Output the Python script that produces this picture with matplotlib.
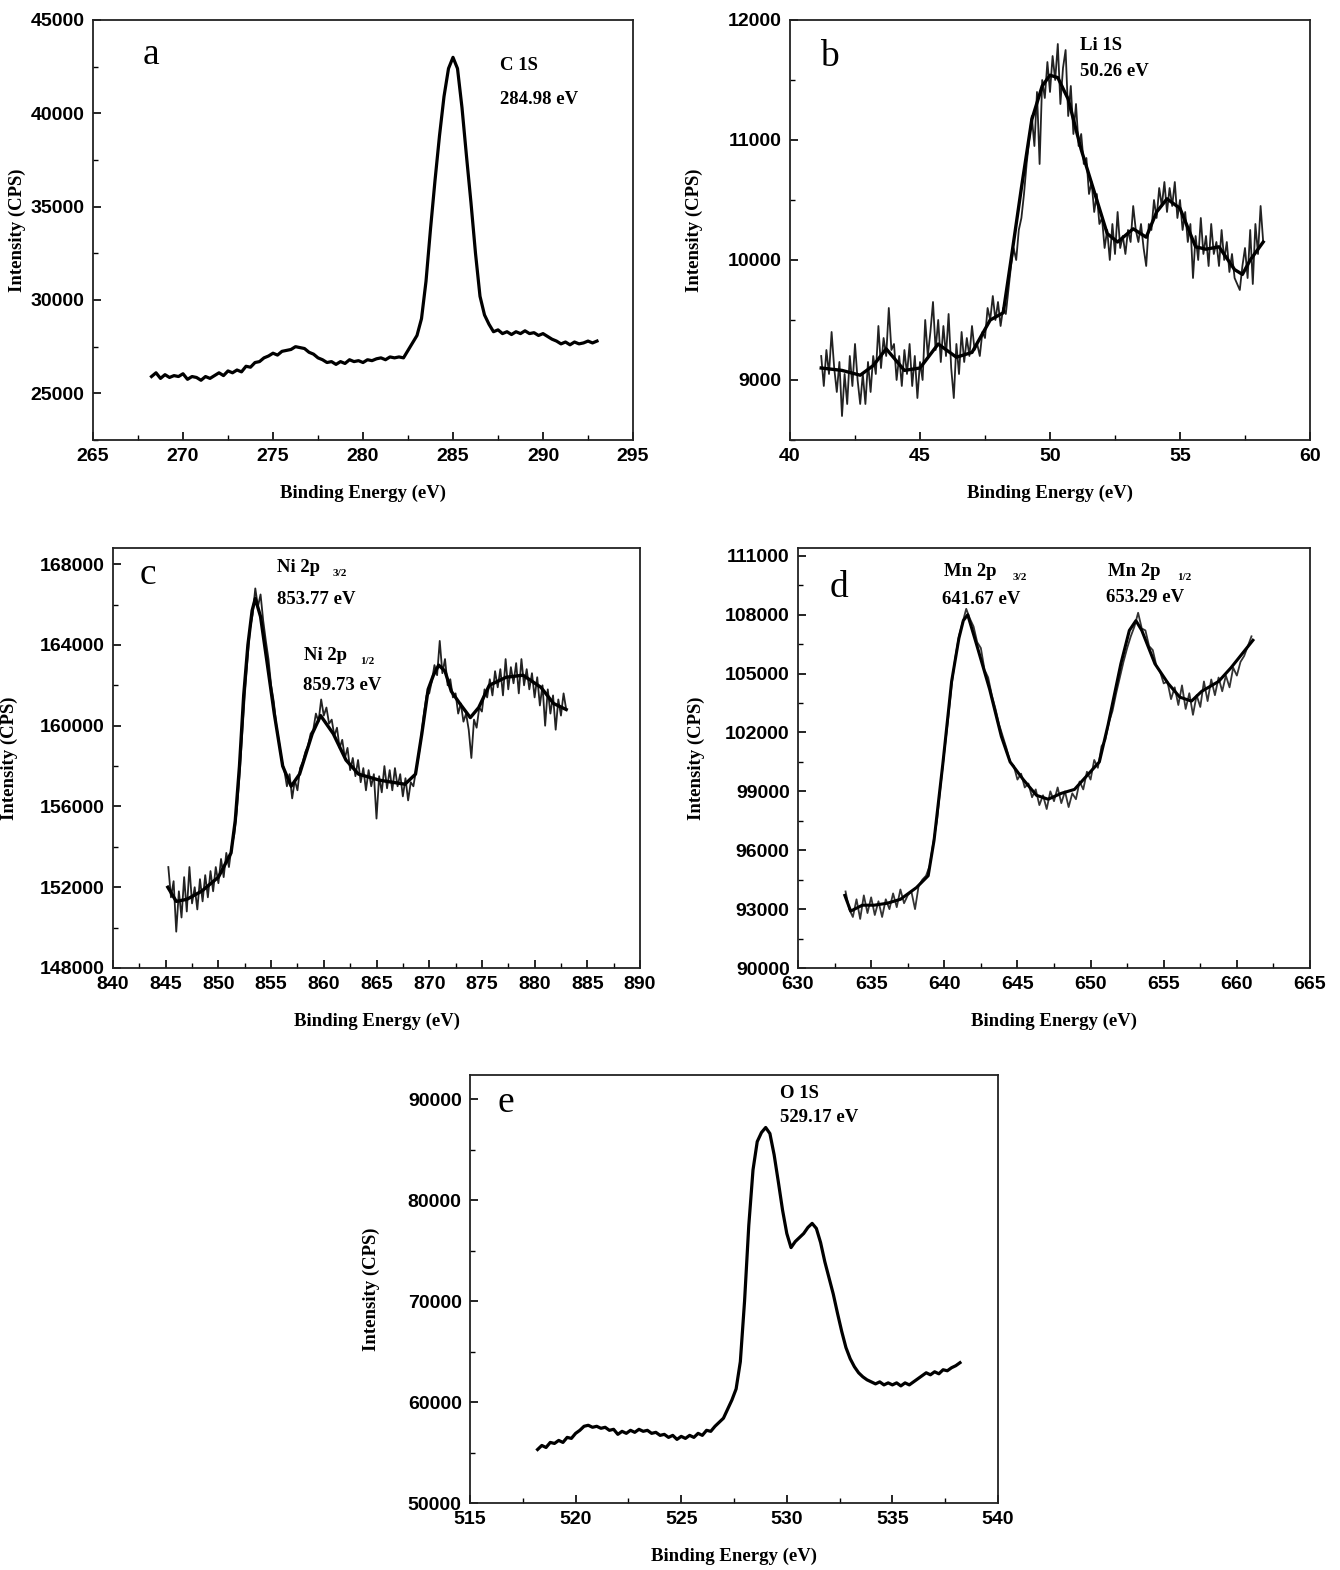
import numpy as np
import matplotlib
matplotlib.use("Agg")
import matplotlib.pyplot as plt
from matplotlib.ticker import MultipleLocator

W, H = 1340, 1570

# ---------------- data ----------------
# (a) C 1S
a_x = np.round(np.arange(268.25, 293.01, 0.25), 2)
a_y = [25900, 26100, 25800, 26000, 25850, 25950, 25900, 26050, 25750, 25900,
       25850, 25700, 25900, 25800, 25950, 26100, 25950, 26200, 26100, 26250,
       26150, 26450, 26400, 26650, 26700, 26900, 27000, 27150, 27050, 27250,
       27300, 27350, 27500, 27450, 27400, 27200, 27100, 26900, 26800, 26650,
       26700, 26550, 26700, 26600, 26800, 26700, 26750, 26650, 26800, 26750,
       26850, 26900, 26800, 26950, 26900, 26950, 26900, 27300, 27700, 28100,
       29000, 31000, 33800, 36400, 38800, 40900, 42400, 43000, 42400, 40300,
       37700, 35200, 32500, 30200, 29200, 28700, 28300, 28400, 28200, 28300,
       28150, 28300, 28200, 28350, 28200, 28250, 28100, 28200, 28050, 27900,
       27800, 27650, 27750, 27600, 27750, 27650, 27700, 27800, 27700, 27800]

# (b) Li 1S : raw trace and smoothed trace
b_raw_x = np.round(np.arange(41.2, 58.21, 0.1), 2)
b_raw_y = [9200, 8950, 9250, 9050, 9400, 9100, 8900, 9150, 8700, 9050,
           8800, 9200, 8950, 9300, 9000, 8800, 9050, 8800, 9150, 8900,
           9200, 9050, 9450, 9100, 9350, 9200, 9600, 9250, 9300, 9000,
           9200, 8950, 9250, 9050, 9300, 8950, 9200, 8850, 9150, 9000,
           9500, 9200, 9400, 9650, 9250, 9500, 9150, 9450, 9200, 9550,
           9100, 8850, 9300, 9050, 9400, 9150, 9350, 9200, 9450, 9250,
           9300, 9200, 9400, 9350, 9600, 9500, 9700, 9500, 9650, 9450,
           9600, 9550, 9750, 9950, 10100, 10000, 10250, 10350, 10550, 10800,
           11000, 11200, 10950, 11400, 10800, 11500, 11350, 11650, 11400, 11700,
           11500, 11800, 11300, 11600, 11750, 11200, 11450, 11050, 11300, 10950,
           11050, 10800, 10850, 10550, 10650, 10400, 10550, 10300, 10350, 10100,
           10250, 10000, 10300, 10050, 10400, 10100, 10200, 10050, 10250, 10150,
           10450, 10250, 10150, 10300, 10100, 9950, 10300, 10250, 10500, 10350,
           10600, 10450, 10650, 10400, 10600, 10450, 10650, 10350, 10500, 10250,
           10400, 10150, 10300, 9850, 10200, 10000, 10350, 10050, 10200, 9950,
           10300, 10050, 10150, 9950, 10250, 10000, 10150, 9900, 10050, 9850,
           9800, 9750, 9950, 10100, 9850, 10250, 9800, 10300, 10050, 10450,
           10150]
b_fit_x = [41.2, 42.0, 42.7, 43.2, 43.7, 44.4, 45.0, 45.7, 46.4, 47.0,
           47.7, 48.2, 48.5, 48.9, 49.3, 49.7, 50.0, 50.3, 50.7, 51.2,
           51.7, 52.2, 52.6, 53.2, 53.7, 54.1, 54.5, 55.0, 55.6, 56.0,
           56.5, 57.1, 57.4, 57.7, 58.2]
b_fit_y = [9100, 9080, 9040, 9120, 9260, 9080, 9100, 9300, 9190, 9230,
           9500, 9560, 10000, 10600, 11170, 11450, 11540, 11520, 11340, 10920,
           10570, 10220, 10150, 10260, 10190, 10400, 10510, 10430, 10110, 10090,
           10110, 9920, 9880, 10000, 10150]

# (c) Ni 2p
c_raw_x = np.round(np.arange(845.25, 883.01, 0.25), 2)
c_raw_y = [153000, 151500, 152300, 149800, 151800, 150500, 152500, 150800, 153000, 151200,
           152000, 150900, 152400, 151300, 152600, 151500, 152800, 151800, 153000, 152200,
           153400, 152500, 153700, 153000, 154000, 154600, 155800, 157500, 159500, 161500,
           163200, 164800, 165500, 166800, 165900, 166500, 165200, 164200, 163300, 162000,
           161200, 160000, 159200, 158300, 157800, 157000, 157600, 156400, 157300, 156800,
           157900, 158200, 158700, 159000, 159600, 159800, 160600, 160200, 161300, 160500,
           160900, 160100, 160300, 159500, 159900, 158900, 159300, 158400, 158900, 157800,
           158400, 157500, 158300, 157200, 157900, 156800, 157800, 157000, 157600, 155400,
           157500, 156700, 158000, 156900, 157800, 156800, 157900, 157000, 157600, 156500,
           157400, 156300, 157200, 157000, 157800, 158500, 159500, 160600, 161500, 161600,
           162200, 163000, 162500, 164200, 162600, 163300, 162000, 162300, 161400, 161600,
           160600, 161100, 160200, 160600, 159800, 158400, 160300, 159900, 160900, 160700,
           161800, 161400, 162300, 161500, 162700, 161900, 162800, 161500, 163300, 161800,
           162900, 162100, 163100, 161600, 163300, 162000, 162800, 161800, 162600, 161400,
           162400, 161000, 162000, 160000, 161800, 160600, 161500, 159800, 161300, 160500,
           161600, 160800]
c_fit_x = [845.2, 846.0, 847.0, 848.4, 850.0, 851.2, 851.6, 852.0, 852.4, 852.8,
           853.2, 853.5, 854.0, 854.6, 855.3, 856.1, 856.9, 857.7, 858.9, 859.7,
           860.9, 862.1, 863.3, 865.3, 867.7, 868.7, 869.3, 869.9, 870.4, 870.9,
           871.5, 872.1, 872.9, 873.9, 874.7, 875.7, 877.3, 878.9, 880.6, 881.8,
           883.0]
c_fit_y = [152000, 151300, 151400, 151800, 152500, 153700, 155300, 158000, 161500, 164000,
           165700, 166300, 165400, 163200, 160600, 158000, 157000, 157600, 159600, 160500,
           159600, 158300, 157600, 157300, 157100, 157600, 159600, 161800, 162500, 163000,
           162700, 161700, 161100, 160400, 160900, 162000, 162400, 162500, 161900, 161100,
           160800]

# (d) Mn 2p
d_raw_x = np.round(np.arange(633.25, 661.01, 0.25), 2)
d_raw_y = [93900, 93000, 92600, 93500, 92500, 93700, 92800, 93600, 92700, 93400,
           92600, 93500, 93000, 93800, 93100, 94000, 93300, 93700, 93900, 93000,
           94200, 94500, 94700, 95200, 96400, 97500, 99300, 101000, 102600, 104400,
           105800, 106900, 107600, 108300, 107800, 107400, 106600, 106300, 105200, 104800,
           103900, 103200, 102400, 101800, 101200, 100500, 100300, 99600, 99900, 99200,
           99400, 98700, 99100, 98300, 98800, 98100, 99000, 98500, 99200, 98400,
           99000, 98200, 98900, 98600, 99500, 99100, 100000, 99600, 100600, 100200,
           101300, 101600, 102500, 103100, 104000, 104800, 105600, 106300, 106900, 107400,
           108100, 107300, 107200, 106400, 106200, 105400, 105100, 104500, 104600, 103700,
           104300, 103400, 104400, 103200, 104000, 102900, 103900, 103300, 104600, 103600,
           104700, 103900, 104800, 104100, 104900, 104300, 105300, 104900, 105600, 105900,
           106400, 106900]
d_fit_x = [633.2, 633.6, 634.4, 635.2, 636.1, 637.0, 638.1, 638.9, 639.3, 639.9,
           640.5, 641.0, 641.3, 641.6, 642.2, 643.1, 643.9, 644.5, 645.4, 646.3,
           647.1, 648.0, 648.9, 649.75, 650.6, 651.2, 652.07, 652.65, 653.1, 653.5,
           654.4, 655.3, 656.1, 656.9, 657.6, 658.75, 659.6, 660.35, 661.1]
d_fit_y = [93700, 92900, 93200, 93200, 93300, 93500, 94100, 94700, 96500, 100400,
           104600, 106800, 107700, 108000, 106500, 104200, 101800, 100500, 99600, 98800,
           98600, 98900, 99100, 99800, 100500, 102400, 105500, 107200, 107700, 107200,
           105500, 104500, 103800, 103600, 104100, 104600, 105300, 106000, 106700]

# (e) O 1S
e_x = np.round(np.arange(518.2, 538.21, 0.2), 2)
e_y = [55300, 55700, 55500, 56000, 55900, 56200, 56000, 56500, 56400, 56900,
       57200, 57600, 57700, 57500, 57600, 57400, 57500, 57200, 57300, 56800,
       57100, 56900, 57200, 57000, 57300, 57100, 57200, 56900, 57000, 56700,
       56800, 56500, 56700, 56300, 56600, 56400, 56700, 56500, 56900, 56700,
       57200, 57100, 57600, 58000, 58400, 59300, 60200, 61300, 64000, 70000,
       77500, 83000, 85800, 86700, 87200, 86600, 84500, 81800, 79000, 76700,
       75300, 75900, 76300, 76700, 77300, 77700, 77200, 75800, 73900, 72300,
       70700, 68800, 67000, 65400, 64300, 63500, 62900, 62500, 62200, 62000,
       61800, 62000, 61700, 61900, 61700, 61900, 61600, 61900, 61700, 62000,
       62300, 62600, 62900, 62700, 63000, 62800, 63200, 63100, 63400, 63600,
       63900]

# axis settings per panel
xlims = {"a": (265, 295), "b": (40, 60), "c": (840, 890), "d": (630, 665), "e": (515, 540)}
ylims = {"a": (22500, 45000), "b": (8500, 12000), "c": (148000, 168800),
         "d": (90000, 111400), "e": (50000, 92400)}
ymajor = {"a": 5000, "b": 1000, "c": 4000, "d": 3000, "e": 10000}
xmajor = {"a": 5, "b": 5, "c": 5, "d": 5, "e": 5}

# ---------------- figure ----------------
fig = plt.figure(figsize=(W / 100, H / 100), dpi=100)

def rect(l, t, r, b):
    return [l / W, 1 - b / H, (r - l) / W, (b - t) / H]

boxes = {"a": (93, 20, 633, 440), "b": (790, 20, 1310, 440),
         "c": (113, 548, 640, 968), "d": (798, 548, 1310, 968),
         "e": (470, 1075, 998, 1503)}
ylab_x = {"a": -0.124, "b": -0.167, "c": -0.180, "d": -0.182, "e": -0.170}

tickfont = dict(family="Liberation Sans", weight="bold", size=14)
labfont = dict(family="Liberation Serif", weight="bold", size=13.5)
annfont = dict(family="Liberation Serif", weight="bold", size=13.5)

axes = {}
for k, box in boxes.items():
    ax = fig.add_axes(rect(*box))
    axes[k] = ax
    ax.set_xlim(*xlims[k])
    ax.set_ylim(*ylims[k])
    ax.xaxis.set_major_locator(MultipleLocator(xmajor[k]))
    ax.xaxis.set_minor_locator(MultipleLocator(xmajor[k] / 2))
    ax.yaxis.set_major_locator(MultipleLocator(ymajor[k]))
    ax.yaxis.set_minor_locator(MultipleLocator(ymajor[k] / 2))
    ax.tick_params(which="major", direction="in", length=6, width=1.2, pad=6)
    ax.tick_params(which="minor", direction="in", length=3.5, width=1.0)
    ax.tick_params(top=False, right=False, which="both")
    for s in ax.spines.values():
        s.set_linewidth(1.3)
        s.set_color("#222222")
    for lab in ax.get_xticklabels() + ax.get_yticklabels():
        lab.set_fontfamily(tickfont["family"])
        lab.set_fontweight("bold")
        lab.set_fontsize(tickfont["size"])
    ax.set_xlabel("Binding Energy (eV)", fontdict=labfont, labelpad=14)
    ax.set_ylabel("Intensity (CPS)", fontdict=labfont)
    ax.yaxis.set_label_coords(ylab_x[k], 0.5)

# curves
axes["a"].plot(a_x, a_y, color="black", lw=2.3)

axes["b"].plot(b_raw_x, b_raw_y, color="#222222", lw=1.3)
axes["b"].plot(b_fit_x, b_fit_y, color="black", lw=2.4)

axes["c"].plot(c_raw_x, c_raw_y, color="#222222", lw=1.3)
axes["c"].plot(c_fit_x, c_fit_y, color="black", lw=2.4)

axes["d"].plot(d_raw_x, d_raw_y, color="#333333", lw=1.3)
axes["d"].plot(d_fit_x, d_fit_y, color="black", lw=2.2)

axes["e"].plot(e_x, e_y, color="black", lw=2.3)

# panel letters and annotations (figure pixel positions)
def ftext(x, y, s, **kw):
    fig.text(x / W, 1 - y / H, s, **kw)

letter = dict(family="Liberation Serif", size=27, ha="left", va="center")
ftext(143, 55, "a", **letter)
ftext(820, 57, "b", **letter)
ftext(140, 575, "c", **letter)
ftext(830, 588, "d", **letter)
ftext(497, 1103, "e", **letter)

ann = dict(ha="left", va="center", **annfont)
sub = dict(ha="left", va="center", family="Liberation Serif", weight="bold", size=8)
ftext(500, 65, "C 1S", **ann)
ftext(500, 99, "284.98 eV", **ann)
ftext(1080, 45, "Li 1S", **ann)
ftext(1080, 72, "50.26 eV", **ann)
ftext(277, 568, "Ni 2p", **ann)
ftext(333, 574, "3/2", **sub)
ftext(277, 600, "853.77 eV", **ann)
ftext(304, 655, "Ni 2p", **ann)
ftext(360, 661, "1/2", **sub)
ftext(303, 686, "859.73 eV", **ann)
ftext(944, 572, "Mn 2p", **ann)
ftext(1013, 578, "3/2", **sub)
ftext(942, 600, "641.67 eV", **ann)
ftext(1108, 572, "Mn 2p", **ann)
ftext(1177, 578, "1/2", **sub)
ftext(1106, 597, "653.29 eV", **ann)
ftext(780, 1093, "O 1S", **ann)
ftext(780, 1118, "529.17 eV", **ann)

fig.savefig("out.png", dpi=100, facecolor="white")
